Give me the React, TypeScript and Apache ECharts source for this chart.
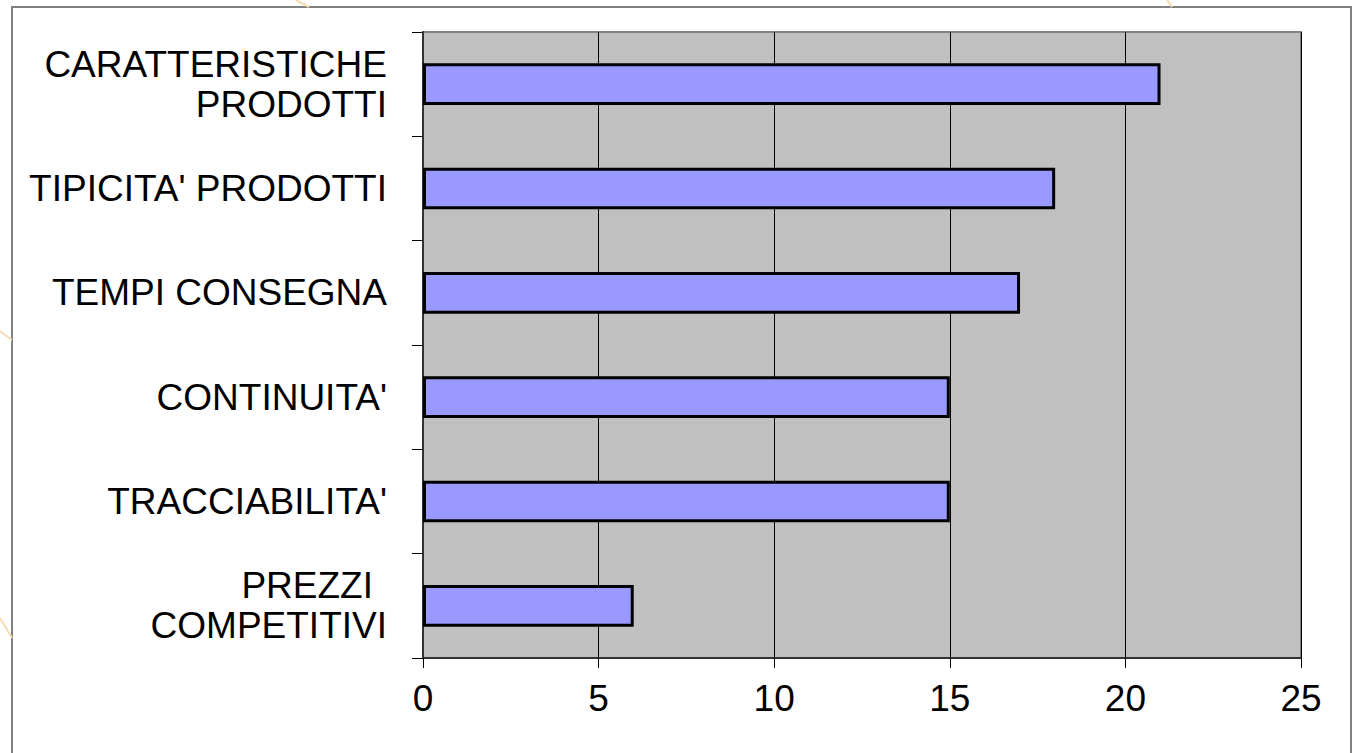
import React, { useEffect, useRef } from "react";
import * as echarts from "echarts";

const categories = [
  "CARATTERISTICHE\nPRODOTTI",
  "TIPICITA' PRODOTTI",
  "TEMPI CONSEGNA",
  "CONTINUITA'",
  "TRACCIABILITA'",
  "PREZZI\nCOMPETITIVI",
];
const values = [21, 18, 17, 15, 15, 6];
const xTicks = { min: 0, max: 25, interval: 5 };

export default function App() {
  const ref = useRef<HTMLDivElement>(null);
  useEffect(() => {
    if (!ref.current) return;
    const chart = echarts.init(ref.current, undefined, { renderer: "svg" });
    const font = "'Liberation Sans', Arial, sans-serif";
    chart.setOption({
      animation: false,
      backgroundColor: "#ffffff",
      graphic: [
        { type: "line", shape: { x1: 296, y1: 0, x2: 309, y2: 7 }, style: { stroke: "#f6dcb4", lineWidth: 2 }, silent: true },
        { type: "line", shape: { x1: 1167, y1: 0, x2: 1172, y2: 7 }, style: { stroke: "#f6dcb4", lineWidth: 2 }, silent: true },
        { type: "line", shape: { x1: 0, y1: 331, x2: 12, y2: 340 }, style: { stroke: "#f6dcb4", lineWidth: 2 }, silent: true },
        { type: "line", shape: { x1: 0, y1: 618, x2: 12, y2: 638 }, style: { stroke: "#f6dcb4", lineWidth: 2 }, silent: true },
        {
          type: "rect",
          shape: { x: 12, y: 7, width: 1339, height: 760 },
          style: { fill: "none", stroke: "#808080", lineWidth: 2 },
          silent: true,
          z: -1,
        },
      ],
      grid: {
        left: 423,
        top: 32,
        width: 878,
        height: 626,
        show: true,
        backgroundColor: "#c0c0c0",
        borderColor: "#808080",
        borderWidth: 2,
      },
      xAxis: {
        type: "value",
        min: xTicks.min,
        max: xTicks.max,
        interval: xTicks.interval,
        axisLine: { show: true, lineStyle: { color: "#333333", width: 2 } },
        axisTick: { show: true, length: 10, lineStyle: { color: "#000000", width: 1 } },
        splitLine: { show: true, lineStyle: { color: "#000000", width: 1 } },
        axisLabel: { color: "#000000", fontSize: 37, fontFamily: font, margin: 22 },
      },
      yAxis: {
        type: "category",
        inverse: true,
        data: categories,
        axisLine: { show: true, lineStyle: { color: "#333333", width: 2 } },
        axisTick: { show: true, length: 11, lineStyle: { color: "#000000", width: 1 } },
        axisLabel: {
          color: "#000000",
          fontSize: 37,
          fontFamily: font,
          lineHeight: 40,
          margin: 36,
          align: "right",
          formatter: (v: string) =>
            v.startsWith("PREZZI")
              ? v.split("\n").map((s, i) => (i === 0 ? `{p|${s}}` : `{q|${s}}`)).join("\n")
              : v,
          rich: {
            p: { fontSize: 37, fontFamily: font, color: "#000000", lineHeight: 40, padding: [0, 14, 0, 0] },
            q: { fontSize: 37, fontFamily: font, color: "#000000", lineHeight: 40 },
          },
        },
      },
      series: [
        {
          type: "bar",
          data: values,
          barWidth: "40%",
          itemStyle: { color: "#9999ff", borderColor: "#000000", borderWidth: 3 },
        },
      ],
    });
    return () => chart.dispose();
  }, []);
  return (
    <div
      ref={ref}
      style={{ position: "fixed", left: 0, top: 0, width: 1353, height: 753 }}
    />
  );
}
